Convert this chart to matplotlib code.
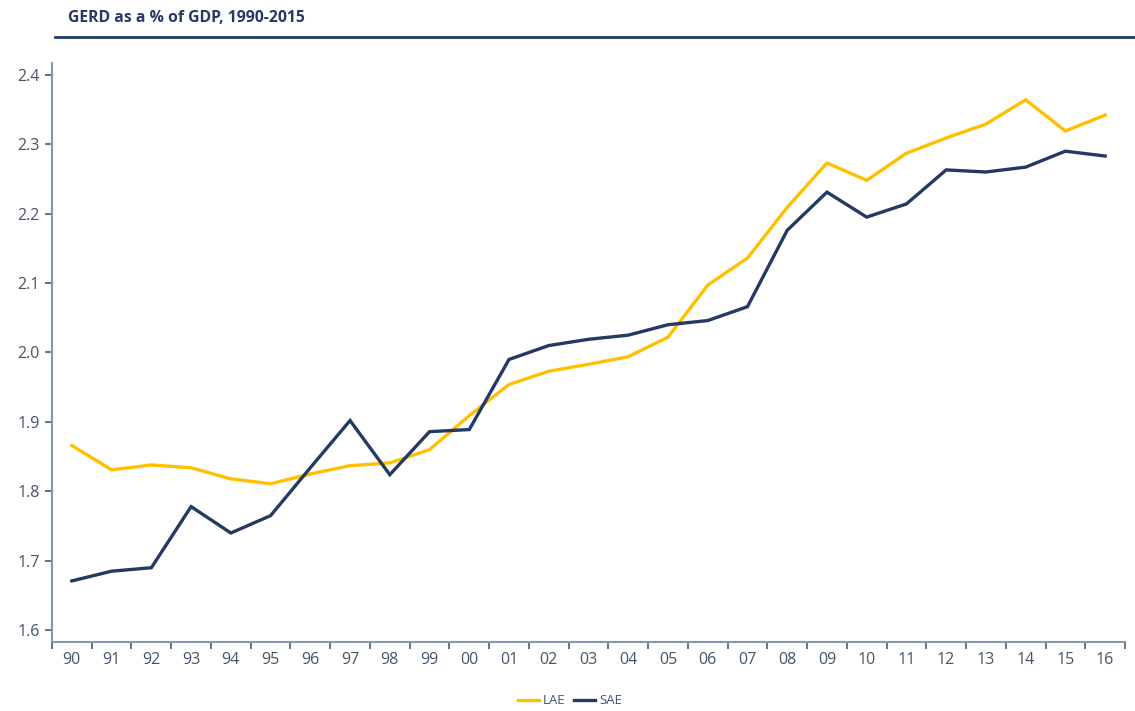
import matplotlib
matplotlib.use("Agg")
import matplotlib.pyplot as plt
import numpy as np
from matplotlib.lines import Line2D

plt.rcParams['font.family'] = ['Open Sans', 'DejaVu Sans']

years = ["90", "91", "92", "93", "94", "95", "96", "97", "98", "99", "00", "01", "02",
         "03", "04", "05", "06", "07", "08", "09", "10", "11", "12", "13", "14", "15", "16"]
lae = [1.866, 1.831, 1.838, 1.834, 1.818, 1.811, 1.825, 1.837, 1.841, 1.860, 1.909,
       1.954, 1.973, 1.983, 1.994, 2.022, 2.097, 2.136, 2.209, 2.273, 2.248, 2.287,
       2.309, 2.329, 2.364, 2.319, 2.342]
sae = [1.671, 1.685, 1.690, 1.778, 1.740, 1.765, 1.834, 1.902, 1.824, 1.886, 1.889,
       1.990, 2.010, 2.019, 2.025, 2.040, 2.046, 2.066, 2.176, 2.231, 2.195, 2.214,
       2.263, 2.260, 2.267, 2.290, 2.283]
yticks = [1.6, 1.7, 1.8, 1.9, 2.0, 2.1, 2.2, 2.3, 2.4]

yellow = "#FFC000"
navy = "#243A64"
txt = "#44546A"
spine_c = "#8497B0"

fig = plt.figure(figsize=(11.35, 7.11), dpi=100)
ax = fig.add_axes([52/1135, 1-642/711, (1125-52)/1135, (642-63)/711])

x = np.arange(len(years))
ax.plot(x, lae, color=yellow, lw=2.4, solid_joinstyle='miter', label="LAE")
ax.plot(x, sae, color=navy, lw=2.4, solid_joinstyle='miter', label="SAE")

ax.set_xlim(-0.5, len(years) - 0.5)
ax.set_ylim(1.583, 2.417)
ax.set_yticks(yticks)
ax.set_yticklabels([f"{v:.1f}" for v in yticks])
ax.set_xticks(x)
ax.set_xticklabels(years)
ax.set_xticks(np.arange(-0.5, len(years), 1.0), minor=True)
ax.tick_params(axis='x', which='major', length=0, pad=7, labelsize=11.5, labelcolor=txt)
ax.tick_params(axis='x', which='minor', length=5, width=1.2, color="#595959", direction='out')
ax.tick_params(axis='y', length=5, width=1.2, color="#595959", direction='out', pad=4,
               labelsize=11.5, labelcolor=txt)

for s in ['top', 'right']:
    ax.spines[s].set_visible(False)
for s in ['left', 'bottom']:
    ax.spines[s].set_color(spine_c)
    ax.spines[s].set_linewidth(1.5)

fig.text(68/1135, 1-18/711, "GERD as a % of GDP, 1990-2015", color=navy, fontsize=11.3,
         fontweight='bold', va='center', ha='left')
fig.add_artist(Line2D([55/1135, 1.0], [1-37/711, 1-37/711], color=navy, lw=2.0,
                      transform=fig.transFigure))

handles = [Line2D([], [], color=yellow, lw=2.4), Line2D([], [], color=navy, lw=2.4)]
fig.legend(handles, ["LAE", "SAE"], loc='center', bbox_to_anchor=(570/1135, 1-701/711),
           ncol=2, frameon=False, fontsize=9.5, labelcolor=txt, handlelength=1.6,
           handletextpad=0.35, columnspacing=0.6)

fig.savefig("out.png", dpi=100)
